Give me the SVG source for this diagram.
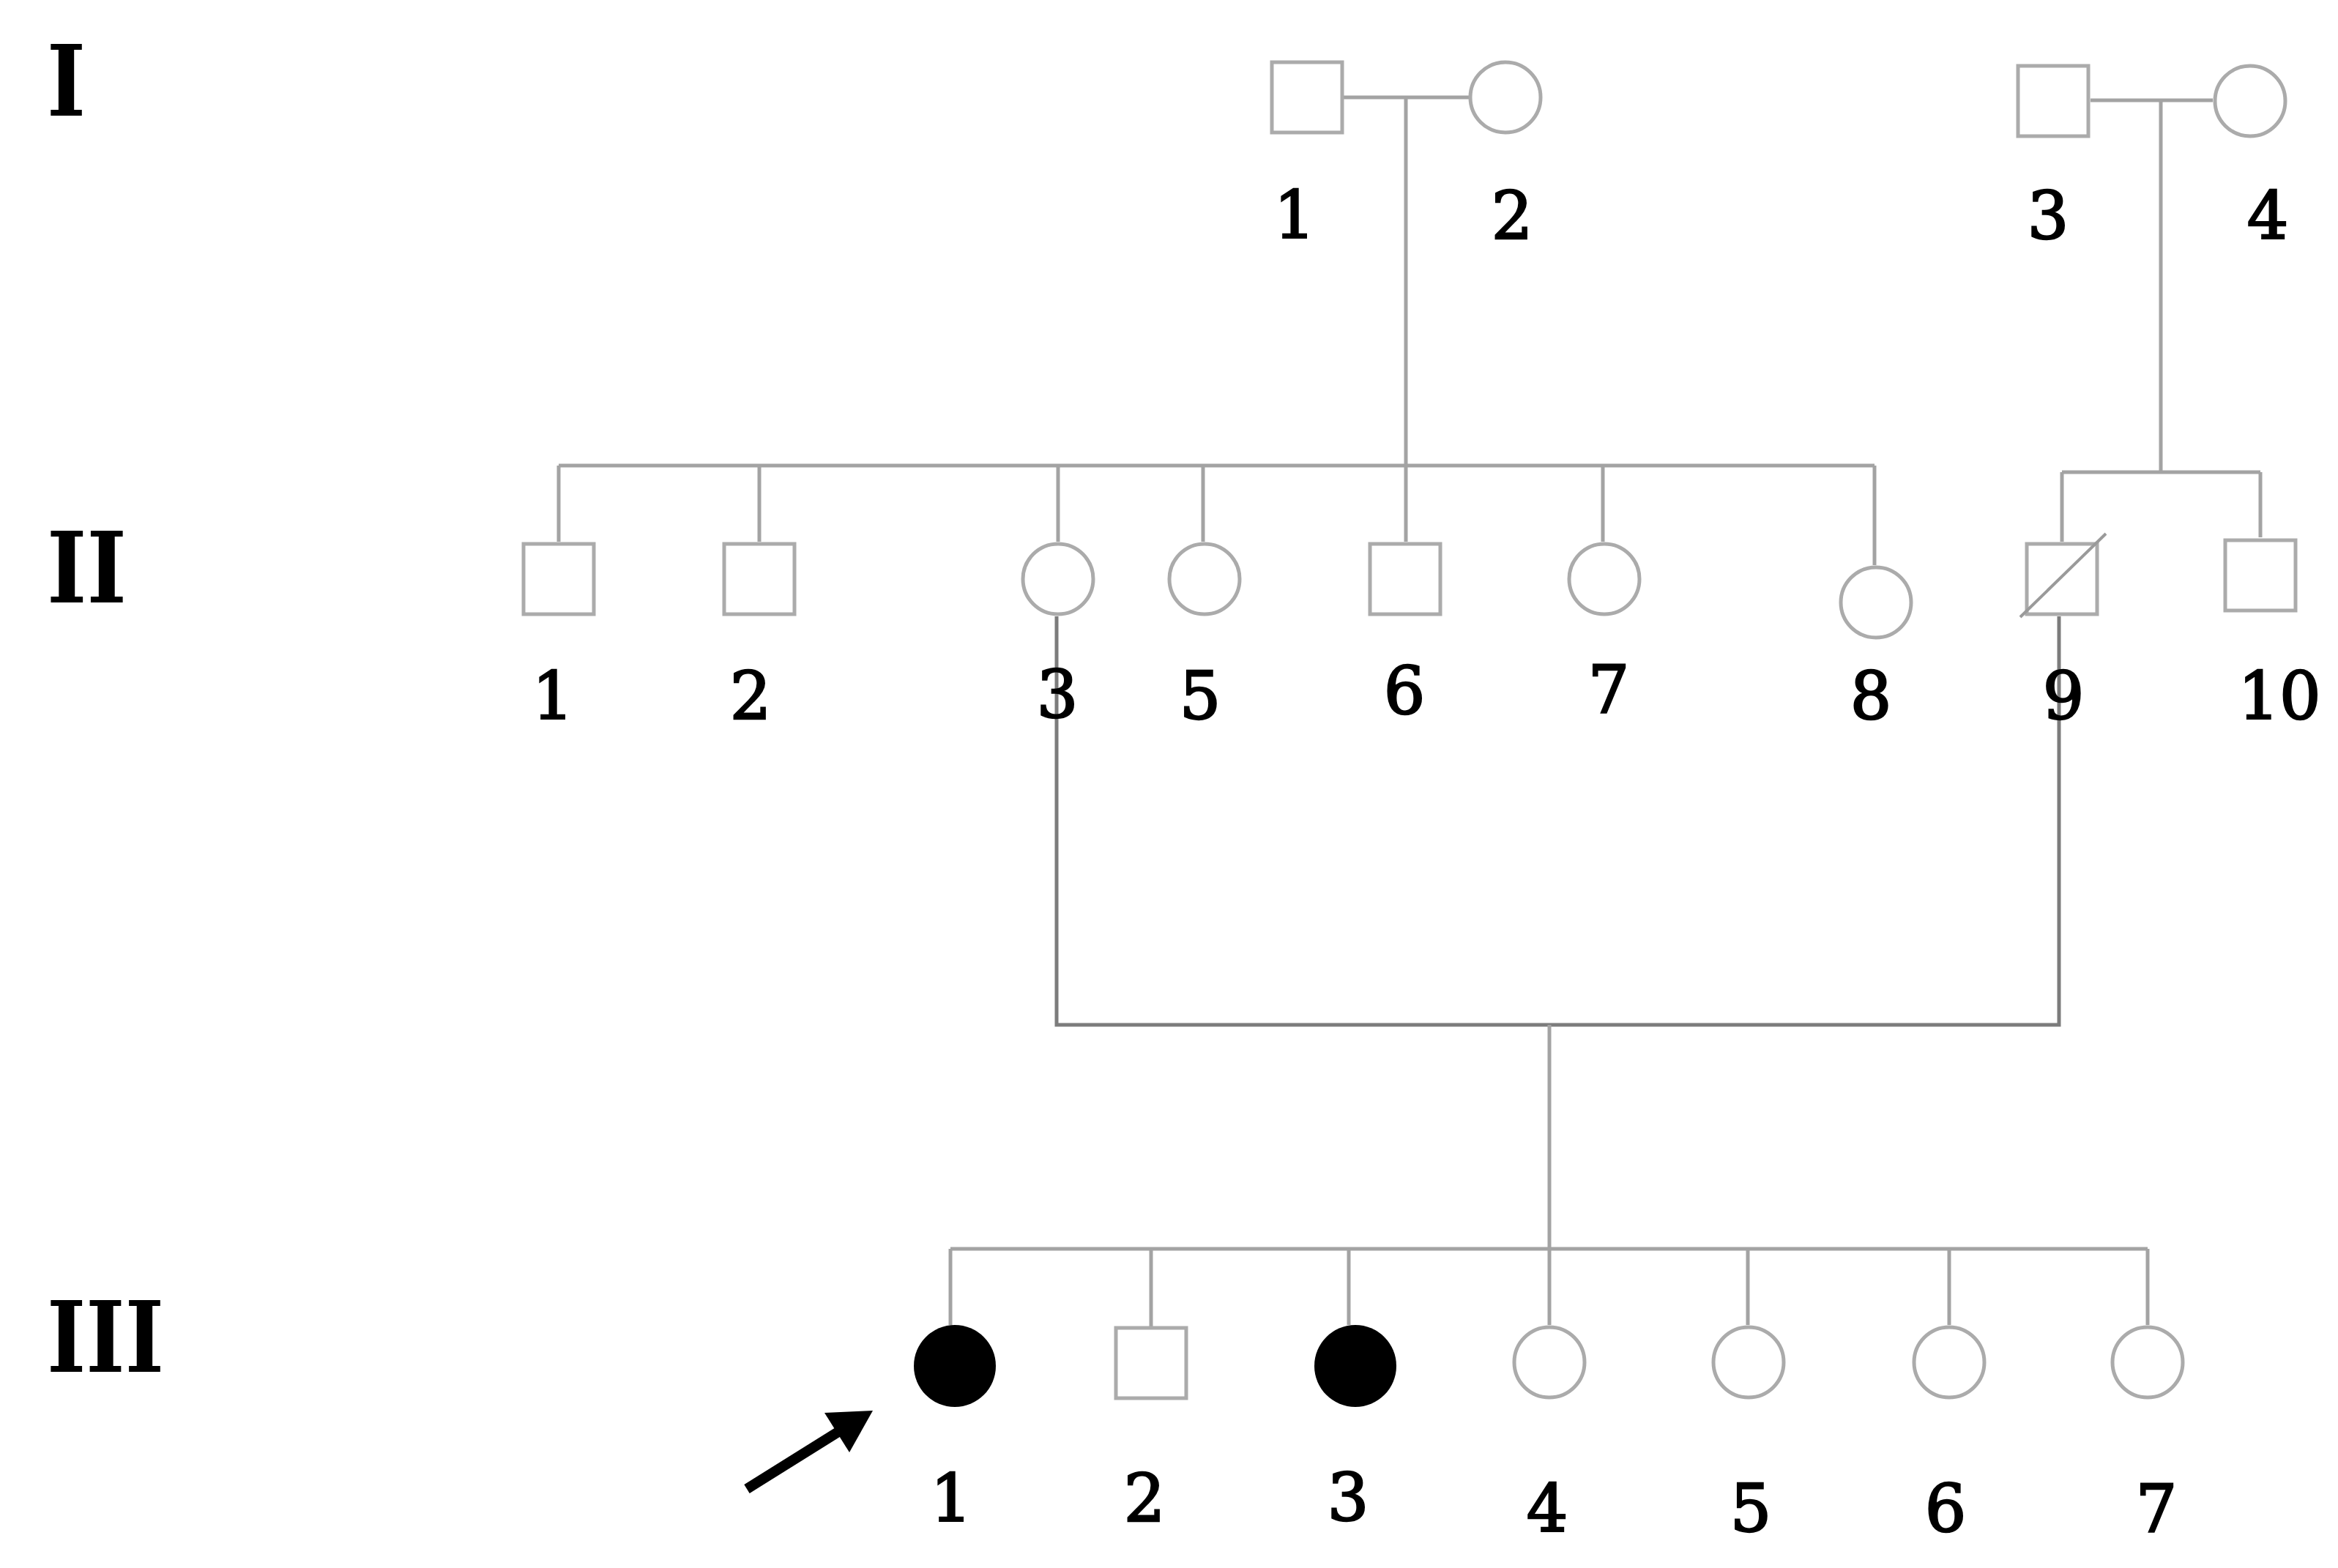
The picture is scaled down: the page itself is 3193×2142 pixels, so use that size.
<svg xmlns="http://www.w3.org/2000/svg" width="3193" height="2142" viewBox="0 0 3193 2142">
<style>
.n{fill:#fff;stroke:#ababab;stroke-width:5}
.a{fill:#000;stroke:none}
.c{fill:none;stroke:#a3a3a3;stroke-width:5}
.d{fill:none;stroke:#7c7c7c;stroke-width:5}
.lbl{font-family:"DejaVu Serif","Liberation Serif",serif;font-size:89px;fill:#000;stroke:#000;stroke-width:2.5;text-anchor:middle}
.gen{font-family:"DejaVu Serif","Liberation Serif",serif;font-weight:bold;font-size:134px;fill:#000}
</style>
<rect width="3193" height="2142" fill="#fff"/>
<g id="generations">
<text class="gen" x="64" y="158" textLength="53" lengthAdjust="spacingAndGlyphs">I</text>
<text class="gen" x="64" y="823" textLength="109" lengthAdjust="spacingAndGlyphs">II</text>
<text class="gen" x="64" y="1874" textLength="160" lengthAdjust="spacingAndGlyphs">III</text>
</g>
<g id="connectors">
<path class="c" d="M1835,133H2006M1920,133V740"/>
<path class="c" d="M2855,137H3022M2951,137V645M2816,645H3087M2816,645V740M3087,645V734"/>
<path class="c" d="M763,636H2560M763,636V740M1037,636V740M1445,636V740M1643,636V740M2189,636V740M2560,636V772"/>
<path class="d" d="M1443,842V1400H2812V842"/>
<path class="c" d="M2116,1400V1810M1298,1706H2933M1298,1706V1810M1572,1706V1812M1842,1706V1810M2387,1706V1810M2662,1706V1810M2933,1706V1810"/>
<path id="proband-arrow" d="M1020,2034L1148,1954" stroke="#000" stroke-width="14" fill="none"/>
<polygon class="a" points="1192,1927 1160,1984 1126,1930"/>
</g>
<g id="I-1"><rect class="n" x="1737" y="85" width="96" height="96"/><text class="lbl" x="1768" y="325">1</text></g>
<g id="I-2"><circle class="n" cx="2056" cy="133" r="48"/><text class="lbl" x="2065" y="326">2</text></g>
<g id="I-3"><rect class="n" x="2756" y="90" width="96" height="96"/><text class="lbl" x="2797" y="326">3</text></g>
<g id="I-4"><circle class="n" cx="3073" cy="138" r="48"/><text class="lbl" x="3097" y="326">4</text></g>
<g id="II-1"><rect class="n" x="715" y="743" width="96" height="96"/><text class="lbl" x="755" y="982">1</text></g>
<g id="II-2"><rect class="n" x="989" y="743" width="96" height="96"/><text class="lbl" x="1025" y="982">2</text></g>
<g id="II-3"><circle class="n" cx="1445" cy="791" r="48"/><text class="lbl" x="1444" y="980">3</text></g>
<g id="II-5"><circle class="n" cx="1645" cy="791" r="48"/><text class="lbl" x="1639" y="982">5</text></g>
<g id="II-6"><rect class="n" x="1871" y="743" width="96" height="96"/><text class="lbl" x="1918" y="975">6</text></g>
<g id="II-7"><circle class="n" cx="2191" cy="791" r="48"/><text class="lbl" x="2197" y="973">7</text></g>
<g id="II-8"><circle class="n" cx="2562" cy="823" r="48"/><text class="lbl" x="2555" y="982">8</text></g>
<g id="II-9"><rect class="n" x="2768" y="743" width="96" height="96"/><line x1="2759" y1="843" x2="2876" y2="729" stroke="#9a9a9a" stroke-width="4"/><text class="lbl" x="2818" y="982">9</text></g>
<g id="II-10"><rect class="n" x="3039" y="738" width="96" height="96"/><text class="lbl" x="3113" y="982">10</text></g>
<g id="III-1"><circle class="a" cx="1304" cy="1866" r="56"/><text class="lbl" x="1299" y="2078">1</text></g>
<g id="III-2"><rect class="n" x="1524" y="1814" width="96" height="96"/><text class="lbl" x="1563" y="2078">2</text></g>
<g id="III-3"><circle class="a" cx="1851" cy="1866" r="56"/><text class="lbl" x="1841" y="2077">3</text></g>
<g id="III-4"><circle class="n" cx="2116" cy="1861" r="48"/><text class="lbl" x="2113" y="2092">4</text></g>
<g id="III-5"><circle class="n" cx="2388" cy="1861" r="48"/><text class="lbl" x="2391" y="2092">5</text></g>
<g id="III-6"><circle class="n" cx="2662" cy="1861" r="48"/><text class="lbl" x="2657" y="2092">6</text></g>
<g id="III-7"><circle class="n" cx="2933" cy="1861" r="48"/><text class="lbl" x="2945" y="2092">7</text></g>
</svg>
